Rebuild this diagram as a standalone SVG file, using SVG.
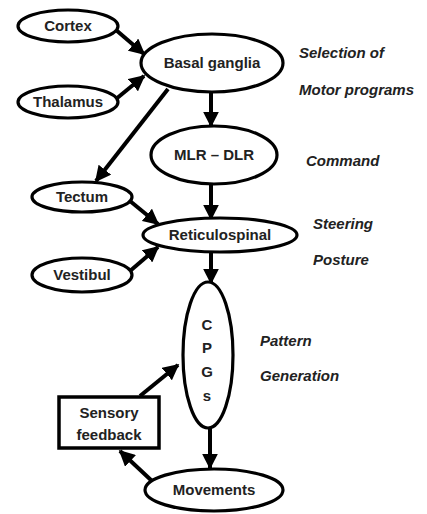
<svg xmlns="http://www.w3.org/2000/svg" width="427" height="514" viewBox="0 0 427 514">
<style>
.n{fill:#fff;stroke:#000;stroke-width:3.2}
.t{font-family:"Liberation Sans",Arial,sans-serif;font-weight:bold;font-size:15px;fill:#222;text-anchor:middle}
.l{font-family:"Liberation Sans",Arial,sans-serif;font-weight:bold;font-style:italic;font-size:15px;fill:#222}
.c line{stroke:#000;stroke-width:4;marker-end:url(#ah)}
</style>
<defs>
<marker id="ah" viewBox="0 0 10 10" refX="9" refY="5" markerWidth="4" markerHeight="4" markerUnits="strokeWidth" orient="auto">
<path d="M0,0 L10,5 L0,10 z" fill="#000"/>
</marker>
</defs>
<rect width="427" height="514" fill="#fff"/>
<g class="c" id="connectors">
<line x1="116" y1="30" x2="144" y2="54"/>
<line x1="116" y1="99" x2="144" y2="76"/>
<line x1="168" y1="89" x2="96" y2="181"/>
<line x1="211" y1="93" x2="211" y2="126"/>
<line x1="211" y1="185" x2="211" y2="219"/>
<line x1="130" y1="201" x2="158" y2="224"/>
<line x1="130" y1="271" x2="158" y2="247"/>
<line x1="211" y1="252" x2="211" y2="283"/>
<line x1="210" y1="428" x2="210" y2="468"/>
<line x1="152" y1="481" x2="120" y2="451"/>
<line x1="140" y1="396" x2="178" y2="365"/>
</g>
<g id="cortex"><ellipse class="n" cx="68" cy="26" rx="50" ry="16"/><text class="t" x="68" y="31">Cortex</text></g>
<g id="thalamus"><ellipse class="n" cx="68" cy="102" rx="50" ry="16"/><text class="t" x="68" y="107">Thalamus</text></g>
<g id="basal"><ellipse class="n" cx="212" cy="63" rx="71" ry="29"/><text class="t" x="212" y="68">Basal ganglia</text></g>
<g id="mlr"><ellipse class="n" cx="214" cy="155" rx="63" ry="29"/><text class="t" x="214" y="160">MLR – DLR</text></g>
<g id="tectum"><ellipse class="n" cx="82" cy="197" rx="50" ry="15"/><text class="t" x="82" y="202">Tectum</text></g>
<g id="reticulo"><ellipse class="n" cx="220" cy="235" rx="77" ry="17"/><text class="t" x="220" y="240">Reticulospinal</text></g>
<g id="vestibul"><ellipse class="n" cx="82" cy="275" rx="50" ry="17"/><text class="t" x="82" y="280">Vestibul</text></g>
<g id="cpg"><ellipse class="n" cx="208" cy="355" rx="25" ry="73"/>
<text class="t" x="207" y="330">C</text><text class="t" x="207" y="353">P</text><text class="t" x="207" y="377">G</text><text class="t" x="207" y="401">s</text></g>
<g id="sensory"><rect x="59" y="397" width="100" height="51" fill="#fff" stroke="#000" stroke-width="3.5"/>
<text class="t" x="109" y="418">Sensory</text><text class="t" x="109" y="440">feedback</text></g>
<g id="movements"><ellipse class="n" cx="214" cy="490" rx="69" ry="21"/><text class="t" x="214" y="495">Movements</text></g>
<g id="labels">
<text class="l" x="299" y="58">Selection of</text>
<text class="l" x="299" y="95">Motor programs</text>
<text class="l" x="306" y="166">Command</text>
<text class="l" x="313" y="229">Steering</text>
<text class="l" x="313" y="265">Posture</text>
<text class="l" x="260" y="346">Pattern</text>
<text class="l" x="260" y="381">Generation</text>
</g>
</svg>
